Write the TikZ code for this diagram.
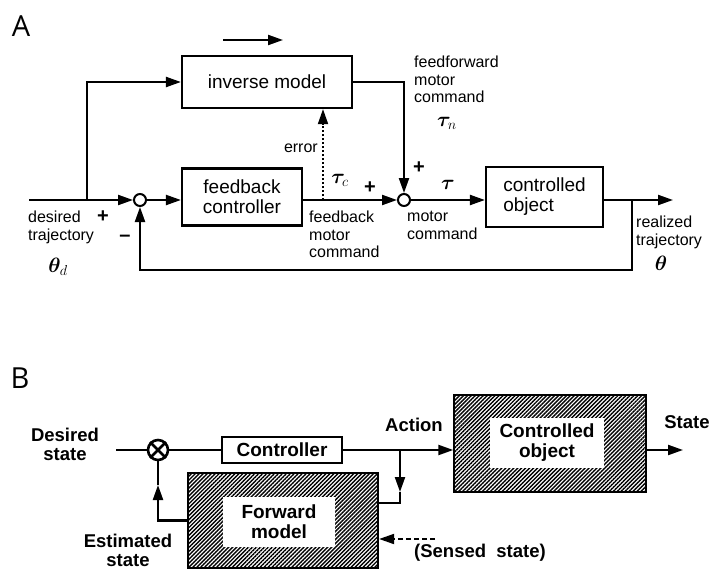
\documentclass[tikz,border=0pt]{standalone}
\usepackage{amsmath}
\usepackage{bm}
\usepackage{fontspec}
\setmainfont{Liberation Sans}
\newfontfamily\panelfont{Open Sans}
\usetikzlibrary{positioning, arrows.meta, patterns.meta}

\begin{document}
\begin{tikzpicture}[x=1pt, y=-1pt,
  line/.style={line width=2.2pt},
  arr/.style={-{Triangle[length=15pt,width=10pt]}},
  block/.style={draw, line width=2.2pt, inner sep=0pt, align=center, font=\fontsize{19}{20}\selectfont},
  blockB/.style={draw, line width=1.8pt, inner sep=0pt, align=center, font=\bfseries\fontsize{19}{20}\selectfont},
  hatch/.style={draw, line width=2.2pt, inner sep=0pt, pattern={Lines[angle=45,distance=2.8pt,line width=1.4pt]}},
  inner/.style={fill=white, inner sep=0pt, minimum width=114, minimum height=50, align=center, font=\bfseries\fontsize{19}{20}\selectfont},
  sumdot/.style={circle, draw, fill=white, line width=2pt, inner sep=0pt, minimum size=12pt},
  xsumdot/.style={circle, draw, fill=white, line width=2.6pt, inner sep=0pt, minimum size=20pt},
  lbl/.style={inner sep=0pt, align=left, font=\fontsize{16}{17.5}\selectfont},
  lblB/.style={inner sep=0pt, align=center, font=\bfseries\fontsize{18.5}{19}\selectfont},
  sym/.style={inner sep=0pt, font=\fontsize{21}{22}\selectfont},
  sign/.style={inner sep=0pt, font=\bfseries\fontsize{20}{22}\selectfont},
  panel/.style={inner sep=0pt, font=\panelfont\fontsize{29}{30}\selectfont}]
\useasboundingbox (0,0) rectangle (713,570);

% Panel A: feedback-error learning
\node[panel] (labA) at (21,26) {A};
\coordinate (dirL) at (223,40);
\coordinate (dirR) at (283,40);
\draw[line, arr] (dirL) -- (dirR);

\node[block, minimum width=170, minimum height=52] (inv) at (267,82) {inverse model};
\node[block, minimum width=120, minimum height=57] (fbc) at (242,197) {feedback\\controller};
\node[block, minimum width=117, minimum height=60, align=left] (obj) at (544.5,197) {controlled\\object};
\node[sumdot] (sum1) at (140,200) {};
\node[sumdot] (sum2) at (404,200) {};

\coordinate (inA) at (29,200);
\coordinate (split) at (87,200);
\coordinate (errtap) at (323,200);
\coordinate (tapA) at (632,200);
\coordinate (backA) at (632,270);
\coordinate (outA) at (673,200);

\draw[line, arr] (inA) -- (sum1);
\draw[line, arr] (split) |- (inv.west);
\draw[line, arr] (sum1) -- (fbc.west |- sum1);
\draw[line, arr] (fbc.east |- sum1) -- (sum2);
\draw[line, arr] (inv.east) -| (sum2);
\draw[line, arr] (sum2) -- (obj.west |- sum2);
\draw[line, arr] (obj.east |- sum2) -- (outA);
\draw[line, arr] (tapA) -- (backA) -| (sum1);
\draw[line width=1.8pt, arr, dash pattern=on 2pt off 2pt] (errtap) -- (inv.south -| errtap);

\node[lbl, anchor=north west] (desA) at (28,211) {desired\\trajectory};
\node[sym] (thd) at (58,267) {$\bm{\theta}_{d}$};
\node[sign] at (103,217) {+};
\node[sign] at (125,238) {--};
\node[lbl, anchor=east] (errl) at (318,148) {error};
\node[sym] (tauc) at (340,180) {$\bm{\tau}_{c}$};
\node[sign] at (370,188) {+};
\node[lbl, anchor=north west] (fbcmd) at (309,211) {feedback\\motor\\command};
\node[lbl, anchor=north west] (mcmd) at (407,211) {motor\\command};
\node[lbl, anchor=north west] (ffcmd) at (414,56) {feedforward\\motor\\command};
\node[sym] (taun) at (447,123) {$\bm{\tau}_{n}$};
\node[sign] at (419,168) {+};
\node[sym] (tau) at (448,185) {$\bm{\tau}$};
\node[lbl, anchor=north west] (real) at (636,216) {realized\\trajectory};
\node[sym] (th) at (661,263) {$\bm{\theta}$};

% Panel B: forward model
\node[panel] (labB) at (20,378) {B};
\node[xsumdot] (xsum) at (158,450) {};
\draw[line width=2.8pt] (xsum.north east) -- (xsum.south west);
\draw[line width=2.8pt] (xsum.north west) -- (xsum.south east);

\node[lblB] (desB) at (65,444) {Desired\\state};
\coordinate (inB) at (116,450);
\draw[line] (inB) -- (xsum);

\node[blockB, minimum width=120, minimum height=26] (ctrl) at (282,450) {Controller};
\draw[line] (xsum) -- (ctrl);

\node[hatch, minimum width=192, minimum height=97] (cobj) at (550,443.5) {};
\node[inner] (cobjt) at (547,443) {Controlled\\object};
\node[hatch, minimum width=190, minimum height=95] (fwd) at (283,520.5) {};
\node[inner, minimum width=112] (fwdt) at (279,522) {Forward\\model};

\draw[line, arr] (ctrl.east) -- (cobj.west |- ctrl);
\node[lblB] (act) at (414,425) {Action};
\coordinate (outB) at (683,450);
\draw[line, arr] (cobj.east |- ctrl) -- (outB);
\node[lblB] (stB) at (687,422) {State};

\coordinate (acttap) at (400,450);
\coordinate (actarr) at (400,492);
\coordinate (fwdin) at (378,503);
\draw[line, arr] (acttap) -- (actarr);
\draw[line] (actarr) |- (fwdin);

\coordinate (estarr) at (158,485);
\draw[line, arr] (fwd.west) -| (estarr);
\draw[line] (estarr) -- (xsum);
\node[lblB] (estB) at (128,550) {Estimated\\state};

\coordinate (sensed) at (435,539);
\draw[line width=1.8pt, arr, dash pattern=on 5pt off 3pt] (sensed) -- (fwd.east |- sensed);
\node[lblB] (sensB) at (480,553) {(Sensed\ \ state)};
\end{tikzpicture}
\end{document}
